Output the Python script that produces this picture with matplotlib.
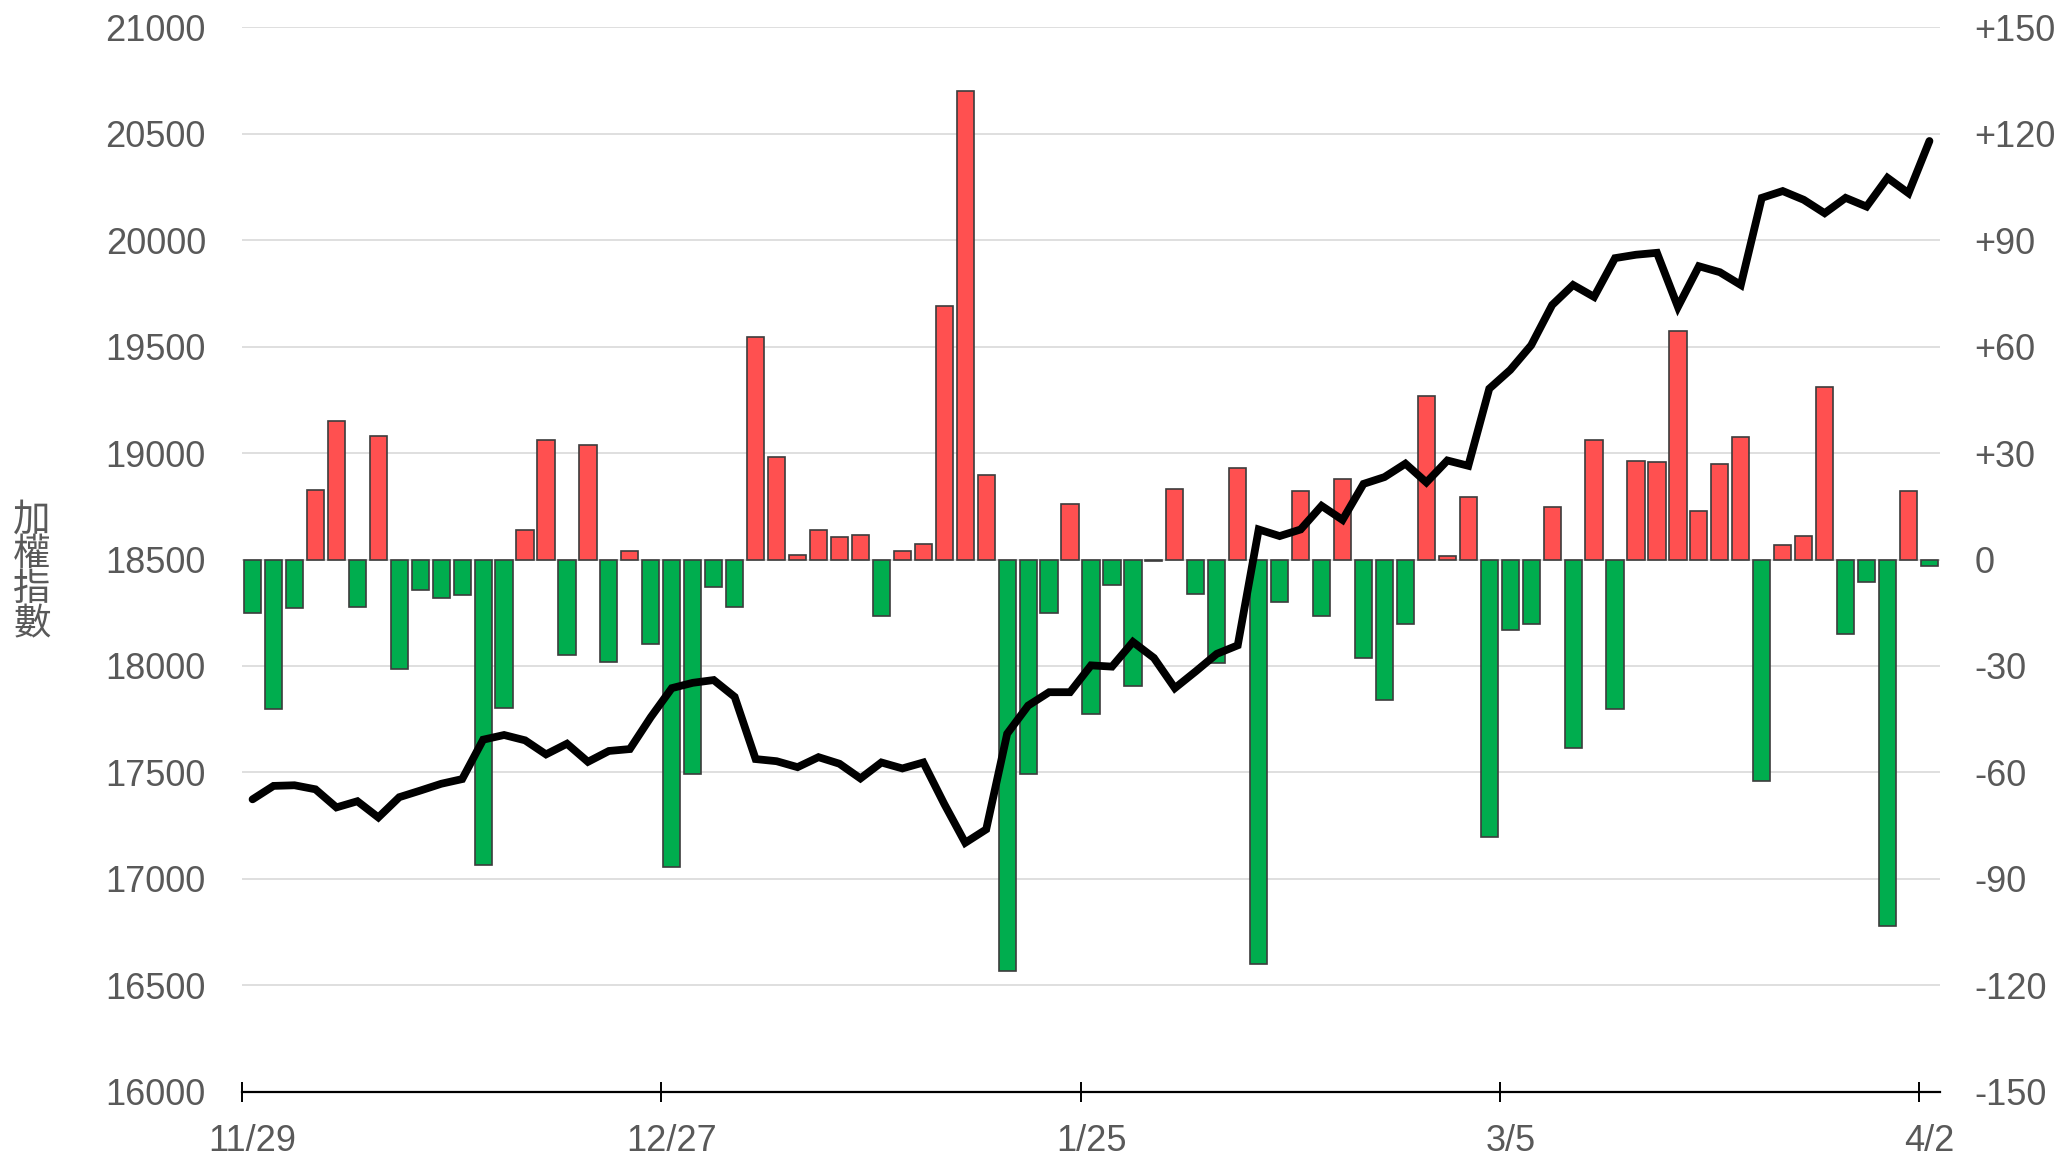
import matplotlib.pyplot as plt
import numpy as np
from matplotlib import ticker

# 加權指數 (left axis) and daily change bars (right axis), 81 trading days 11/29 - 4/2
index_close = [
    17374, 17437, 17440, 17421, 17336, 17365, 17289, 17384, 17415, 17447,
    17469, 17654, 17676, 17651, 17585, 17635, 17550, 17601, 17610, 17760,
    17896, 17921, 17934, 17855, 17563, 17553, 17525, 17572, 17541, 17472,
    17547, 17519, 17547, 17352, 17170, 17233, 17682, 17814, 17877, 17877,
    18003, 17997, 18113, 18038, 17896, 17975, 18057, 18097, 18641, 18610,
    18641, 18752, 18686, 18855, 18887, 18950, 18862, 18965, 18940, 19302,
    19390, 19506, 19695, 19789, 19733, 19915, 19931, 19940, 19686, 19877,
    19849, 19789, 20198, 20230, 20189, 20126, 20198, 20157, 20292, 20220,
    20465,
]
change = [
    -15.1, -42.1, -13.8, 19.6, 39.1, -13.4, 34.9, -30.8, -8.7, -10.9,
    -10.0, -86.2, -41.9, 8.3, 33.8, -26.8, 32.3, -28.9, 2.3, -23.8,
    -86.5, -60.4, -7.7, -13.4, 62.6, 28.9, 1.3, 8.3, 6.2, 6.8,
    -16.0, 2.3, 4.5, 71.3, 131.9, 23.8, -116.0, -60.4, -15.1, 15.5,
    -43.4, -7.2, -35.5, -0.3, 20.0, -9.6, -29.2, 25.8, -114.0, -11.9,
    19.2, -16.0, 22.6, -27.7, -39.6, -18.3, 46.2, 0.9, 17.5, -78.1,
    -20.0, -18.3, 14.7, -53.2, 33.8, -42.1, 27.7, 27.4, 64.5, 13.8,
    26.8, 34.5, -62.5, 4.2, 6.6, 48.5, -20.9, -6.2, -103.2, 19.2,
    -1.7,
]
tick_labels = ['11/29', '12/27', '1/25', '3/5', '4/2']
tick_idx = [0, 20, 40, 60, 80]
left_ticks = list(range(16000, 21001, 500))
right_ticks = list(range(-150, 151, 30))

plt.rcParams['font.family'] = ['Liberation Sans', 'DejaVu Sans']
grey = '#595959'
fs = 26

x = np.arange(len(index_close))
colors = ['#ff5050' if v > 0 else '#00ad4e' for v in change]

fig = plt.figure(figsize=(20.62, 11.56), dpi=100)
ax = fig.add_axes([0.1174, 0.0554, 0.8234, 0.9212])
axr = ax.twinx()

# bars on the right axis, drawn behind the line
axr.bar(x, change, width=0.82, color=colors, edgecolor='#3c3c3c', linewidth=1.2, zorder=2)
axr.set_ylim(-150, 150)
axr.set_yticks(right_ticks)
axr.set_yticklabels([('+%d' % v if v > 0 else '%d' % v) for v in right_ticks])
axr.yaxis.grid(True, color='#dcdcdc', linewidth=1.3)
axr.set_axisbelow(True)
axr.tick_params(axis='y', length=0, pad=25, labelsize=fs, labelcolor=grey)
for s in axr.spines.values():
    s.set_visible(False)

ax.plot(x, index_close, color='black', linewidth=5.6, solid_joinstyle='miter',
        solid_capstyle='round', zorder=5)
ax.set_ylim(16000, 21000)
ax.set_yticks(left_ticks)
ax.tick_params(axis='y', length=0, pad=26, labelsize=fs, labelcolor=grey)
ax.set_xlim(-0.5, len(x) - 0.5)
ax.set_zorder(axr.get_zorder() + 1)
ax.patch.set_visible(False)
for side in ['left', 'right', 'top']:
    ax.spines[side].set_visible(False)
ax.spines['bottom'].set_color('black')
ax.spines['bottom'].set_linewidth(1.6)

# ticks at band edges, labels at band centres
ax.set_xticks([i - 0.5 for i in tick_idx])
ax.xaxis.set_major_formatter(ticker.NullFormatter())
ax.tick_params(axis='x', which='major', direction='inout', length=15, width=1.4, color='black')
ax.set_xticks(tick_idx, minor=True)
ax.set_xticklabels(tick_labels, minor=True)
ax.tick_params(axis='x', which='minor', length=0, pad=23, labelsize=fs, labelcolor=grey)

fig.text(0.0155, 0.505, '加\n權\n指\n數', ha='center', va='center', fontsize=27,
         color=grey, linespacing=0.86, family=['Noto Sans CJK TC', 'DejaVu Sans'])

fig.savefig('out.png', dpi=100, facecolor='white')
